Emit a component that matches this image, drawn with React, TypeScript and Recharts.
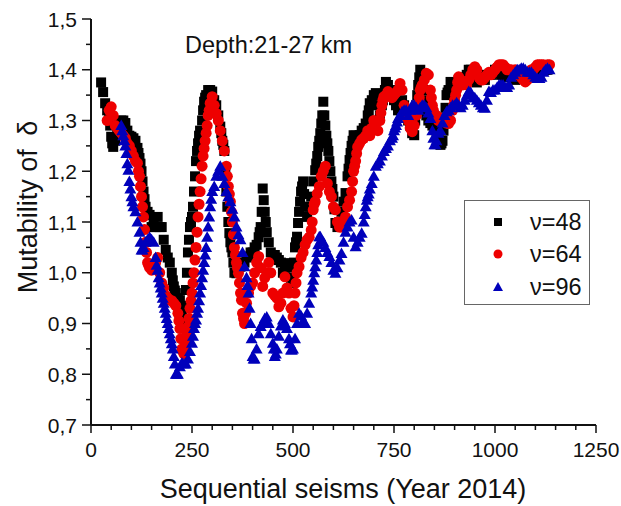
import React from 'react';
import { ScatterChart, Scatter, XAxis, YAxis } from 'recharts';

const RED = '#ee0000';
const BLUE = '#0000bb';
const INK = '#111';
const FONT = 'Arial, "Liberation Sans", sans-serif';

// sequential seism index: each series starts at its first point, one point every 5 seisms
const X_STEP = 5;
const START_48 = 25;
const START_64 = 40;
const START_96 = 75;

const DELTA_48 = [
  1.375, 1.356, 1.334, 1.32, 1.31, 1.268, 1.248, 1.26, 1.28, 1.295,
  1.3, 1.3, 1.295, 1.28, 1.27, 1.268, 1.265, 1.26, 1.246, 1.226,
  1.2, 1.16, 1.13, 1.12, 1.114, 1.09, 1.1, 1.09, 1.11, 1.09,
  1.09, 1.065, 1.045, 1.03, 1.02, 1.0, 0.973, 0.96, 0.95, 0.946,
  0.92, 0.905, 0.966, 1.04, 1.09, 1.11, 1.16, 1.22, 1.255, 1.28,
  1.3, 1.337, 1.35, 1.36, 1.36, 1.357, 1.34, 1.33, 1.31, 1.288,
  1.26, 1.24, 1.16, 1.1, 1.06, 1.04, 1.0, 0.999, 1.01, 1.012,
  1.02, 1.02, 1.03, 1.032, 1.04, 1.04, 1.05, 1.055, 1.07, 1.09,
  1.166, 1.12, 1.08, 1.06, 1.04, 1.03, 1.035, 1.03, 1.025, 1.02,
  1.0, 1.01, 1.019, 1.01, 0.99, 0.98, 1.05, 1.071, 1.12, 1.16,
  1.18, 1.13, 1.11, 1.13, 1.15, 1.18, 1.202, 1.23, 1.26, 1.294,
  1.337, 1.29, 1.255, 1.22, 1.18, 1.15, 1.098, 1.09, 1.1, 1.12,
  1.14, 1.157, 1.19, 1.222, 1.25, 1.271, 1.27, 1.265, 1.271, 1.28,
  1.285, 1.294, 1.31, 1.334, 1.34, 1.35, 1.354, 1.33, 1.31, 1.33,
  1.35, 1.376, 1.37, 1.36, 1.35, 1.34, 1.33, 1.32, 1.33, 1.34,
  1.33, 1.31, 1.3, 1.29, 1.275, 1.271, 1.33, 1.37, 1.4, 1.38,
  1.34, 1.31, 1.3, 1.295, 1.29, 1.285, 1.28, 1.275, 1.252, 1.26,
  1.3, 1.35, 1.36, 1.376, 1.37, 1.37, 1.375, 1.38, 1.37, 1.38,
  1.385, 1.39, 1.4, 1.4, 1.39, 1.38, 1.375, 1.38, 1.385, 1.385,
  1.38, 1.39, 1.39, 1.39, 1.395, 1.4, 1.4, 1.395, 1.39, 1.39,
  1.385, 1.39, 1.39, 1.39, 1.385, 1.38, 1.385, 1.385, 1.39, 1.385,
  1.39, 1.39, 1.385, 1.39, 1.395, 1.395, 1.4, 1.395, 1.4, 1.4,
  1.4, 1.4,
];

// extra readings on the steep stretches, where the markers sit closer together
const EXTRA_48 = [
  [47.5, 1.29], [52.5, 1.255], [117.5, 1.236], [122.5, 1.215], [127.5, 1.18],
  [132.5, 1.145], [202.5, 0.985], [207.5, 0.965], [227.5, 0.935], [232.5, 0.93],
  [237.5, 1.0], [242.5, 1.065], [247.5, 1.1], [252.5, 1.13], [257.5, 1.19],
  [262.5, 1.24], [267.5, 1.27], [277.5, 1.32], [282.5, 1.345], [322.5, 1.275],
  [327.5, 1.252], [332.5, 1.2], [337.5, 1.13], [342.5, 1.078], [347.5, 1.05],
  [352.5, 1.02], [417.5, 1.08], [422.5, 1.12], [427.5, 1.143], [432.5, 1.1],
  [502.5, 1.02], [507.5, 1.06], [512.5, 1.098], [517.5, 1.14], [522.5, 1.17],
  [527.5, 1.155], [557.5, 1.215], [562.5, 1.248], [567.5, 1.275], [572.5, 1.31],
  [577.5, 1.31], [582.5, 1.27], [587.5, 1.24], [592.5, 1.2], [597.5, 1.165],
  [602.5, 1.125], [637.5, 1.205], [642.5, 1.236], [647.5, 1.26], [687.5, 1.32],
  [722.5, 1.34], [727.5, 1.36], [802.5, 1.3], [807.5, 1.35], [812.5, 1.385],
  [822.5, 1.36], [827.5, 1.325], [867.5, 1.255], [872.5, 1.28], [877.5, 1.325],
  [882.5, 1.355],
];

const DELTA_64 = [
  1.3, 1.32, 1.327, 1.31, 1.29, 1.285, 1.28, 1.275, 1.27, 1.265,
  1.255, 1.25, 1.24, 1.23, 1.22, 1.216, 1.19, 1.15, 1.11, 1.06,
  1.02, 1.01, 1.005, 1.015, 1.02, 1.03, 1.0, 0.98, 0.97, 0.955,
  0.95, 0.946, 0.945, 0.94, 0.935, 0.92, 0.89, 0.85, 0.84, 0.87,
  0.894, 0.93, 0.96, 1.0, 1.05, 1.11, 1.16, 1.21, 1.245, 1.275,
  1.31, 1.334, 1.347, 1.33, 1.314, 1.3, 1.28, 1.26, 1.24, 1.21,
  1.17, 1.14, 1.1, 1.05, 1.02, 0.999, 0.96, 0.92, 0.9, 0.94,
  0.96, 0.973, 0.98, 1.0, 1.02, 1.032, 1.01, 0.973, 0.99, 1.0,
  1.02, 1.0, 0.96, 0.955, 0.95, 0.933, 0.94, 0.96, 0.992, 0.97,
  0.96, 0.93, 0.913, 0.96, 1.0, 1.012, 1.03, 1.04, 1.055, 1.065,
  1.07, 1.084, 1.124, 1.14, 1.156, 1.17, 1.19, 1.2, 1.21, 1.176,
  1.16, 1.15, 1.13, 1.124, 1.1, 1.09, 1.09, 1.1, 1.11, 1.13,
  1.143, 1.16, 1.2, 1.22, 1.248, 1.255, 1.262, 1.265, 1.27, 1.28,
  1.27, 1.285, 1.3, 1.294, 1.28, 1.3, 1.33, 1.347, 1.35, 1.357,
  1.35, 1.345, 1.35, 1.355, 1.36, 1.373, 1.36, 1.33, 1.31, 1.3,
  1.285, 1.278, 1.29, 1.31, 1.33, 1.36, 1.37, 1.38, 1.393, 1.39,
  1.36, 1.33, 1.311, 1.31, 1.3, 1.305, 1.3, 1.3, 1.295, 1.294,
  1.3, 1.32, 1.34, 1.36, 1.386, 1.38, 1.37, 1.375, 1.37, 1.38,
  1.39, 1.4, 1.406, 1.4, 1.385, 1.38, 1.38, 1.385, 1.39, 1.395,
  1.39, 1.395, 1.4, 1.405, 1.41, 1.41, 1.41, 1.405, 1.4, 1.4,
  1.4, 1.395, 1.4, 1.39, 1.39, 1.385, 1.38, 1.376, 1.38, 1.39,
  1.4, 1.4, 1.405, 1.41, 1.41, 1.41, 1.41, 1.405, 1.41, 1.41,
];

const EXTRA_64 = [
  [117.5, 1.2], [122.5, 1.17], [127.5, 1.13], [132.5, 1.085], [137.5, 1.04],
  [142.5, 1.015], [217.5, 0.905], [222.5, 0.87], [227.5, 0.845], [232.5, 0.855],
  [237.5, 0.88], [242.5, 0.91], [247.5, 0.945], [252.5, 0.98], [257.5, 1.025],
  [262.5, 1.08], [267.5, 1.135], [272.5, 1.185], [277.5, 1.23], [282.5, 1.26],
  [287.5, 1.29], [292.5, 1.32], [337.5, 1.19], [342.5, 1.155], [347.5, 1.12],
  [352.5, 1.075], [357.5, 1.035], [362.5, 1.01], [367.5, 0.98], [372.5, 0.946],
  [377.5, 0.91], [382.5, 0.92], [502.5, 0.935], [507.5, 0.98], [547.5, 1.1],
  [552.5, 1.135], [647.5, 1.18], [652.5, 1.21], [657.5, 1.235], [717.5, 1.315],
  [722.5, 1.34], [807.5, 1.32], [812.5, 1.345], [817.5, 1.365], [842.5, 1.345],
  [847.5, 1.32], [897.5, 1.33], [902.5, 1.35], [907.5, 1.375],
];

const DELTA_96 = [
  1.29, 1.27, 1.25, 1.215, 1.18, 1.15, 1.13, 1.12, 1.1, 1.08,
  1.045, 1.05, 1.06, 1.065, 1.07, 1.065, 1.06, 1.03, 1.005, 0.98,
  0.96, 0.94, 0.92, 0.9, 0.88, 0.86, 0.835, 0.8, 0.8, 0.815,
  0.822, 0.82, 0.82, 0.83, 0.845, 0.861, 0.89, 0.907, 0.93, 0.96,
  0.99, 1.02, 1.05, 1.09, 1.13, 1.16, 1.17, 1.19, 1.2, 1.21,
  1.19, 1.176, 1.16, 1.15, 1.14, 1.125, 1.11, 1.09, 1.075, 1.065,
  1.04, 1.012, 0.99, 0.96, 0.9, 0.835, 0.83, 0.85, 0.88, 0.894,
  0.9, 0.91, 0.913, 0.9, 0.88, 0.861, 0.835, 0.85, 0.875, 0.895,
  0.907, 0.9, 0.89, 0.87, 0.848, 0.85, 0.87, 0.9, 0.92, 0.915,
  0.905, 0.9, 0.92, 0.94, 0.96, 0.985, 1.012, 1.04, 1.071, 1.065,
  1.06, 1.05, 1.04, 1.032, 1.02, 1.005, 0.999, 1.01, 1.025, 1.038,
  1.06, 1.08, 1.09, 1.1, 1.104, 1.07, 1.051, 1.06, 1.07, 1.078,
  1.1, 1.13, 1.15, 1.165, 1.176, 1.19, 1.21, 1.215, 1.22, 1.23,
  1.239, 1.245, 1.25, 1.26, 1.265, 1.28, 1.29, 1.304, 1.31, 1.317,
  1.32, 1.32, 1.31, 1.32, 1.33, 1.33, 1.325, 1.32, 1.325, 1.33,
  1.33, 1.325, 1.315, 1.304, 1.28, 1.252, 1.26, 1.275, 1.28, 1.295,
  1.31, 1.317, 1.32, 1.325, 1.33, 1.33, 1.335, 1.33, 1.325, 1.33,
  1.34, 1.35, 1.357, 1.355, 1.345, 1.345, 1.34, 1.335, 1.33, 1.325,
  1.324, 1.34, 1.357, 1.355, 1.36, 1.36, 1.365, 1.37, 1.37, 1.37,
  1.365, 1.365, 1.37, 1.385, 1.39, 1.395, 1.4, 1.4, 1.403, 1.403,
  1.4, 1.395, 1.395, 1.395, 1.39, 1.385, 1.383, 1.383, 1.385, 1.395,
  1.4, 1.403, 1.4,
];

const EXTRA_96 = [
  [77.5, 1.28], [82.5, 1.26], [87.5, 1.235], [92.5, 1.202], [97.5, 1.165],
  [102.5, 1.14], [122.5, 1.06], [127.5, 1.045], [162.5, 1.015], [167.5, 0.99],
  [172.5, 0.97], [177.5, 0.95], [182.5, 0.93], [187.5, 0.91], [192.5, 0.89],
  [197.5, 0.87], [202.5, 0.85], [207.5, 0.82], [212.5, 0.8], [252.5, 0.875],
  [257.5, 0.9], [262.5, 0.92], [267.5, 0.945], [272.5, 0.975], [277.5, 1.005],
  [282.5, 1.035], [287.5, 1.07], [292.5, 1.11], [297.5, 1.145], [387.5, 0.975],
  [392.5, 0.93], [397.5, 0.87], [402.5, 0.83], [452.5, 0.85], [457.5, 0.84],
  [492.5, 0.86], [497.5, 0.848], [547.5, 0.972], [552.5, 1.0], [557.5, 1.025],
  [562.5, 1.055], [567.5, 1.071], [677.5, 1.115], [682.5, 1.143], [687.5, 1.155],
  [747.5, 1.27], [752.5, 1.285], [757.5, 1.297], [847.5, 1.265], [852.5, 1.252],
];

const X_TICKS = [
  0, 50, 100, 150, 200, 250, 300, 350, 400, 450, 500, 550, 600, 650,
  700, 750, 800, 850, 900, 950, 1000, 1050, 1100, 1150, 1200, 1250,
];
const X_LABELS: Record<number, string> = {
  0: '0', 250: '250', 500: '500', 750: '750', 1000: '1000', 1250: '1250',
};

const Y_TICKS = [
  0.7, 0.75, 0.8, 0.85, 0.9, 0.95, 1.0, 1.05, 1.1, 1.15, 1.2, 1.25,
  1.3, 1.35, 1.4, 1.45, 1.5,
];
const Y_LABELS: Record<string, string> = {
  '0.7': '0,7', '0.8': '0,8', '0.9': '0,9', '1': '1,0', '1.1': '1,1',
  '1.2': '1,2', '1.3': '1,3', '1.4': '1,4', '1.5': '1,5',
};

const toPoints = (start: number, values: number[], extra: number[][]) => [
  ...values.map((y, i) => ({ x: start + i * X_STEP, y })),
  ...extra.map(([x, y]) => ({ x, y })),
];

const data48 = toPoints(START_48, DELTA_48, EXTRA_48);
const data64 = toPoints(START_64, DELTA_64, EXTRA_64);
const data96 = toPoints(START_96, DELTA_96, EXTRA_96);

const Square = (p: any) => (
  <rect x={p.cx - 5} y={p.cy - 5} width={10} height={10} fill="#000" />
);
const Dot = (p: any) => <circle cx={p.cx} cy={p.cy} r={5.5} fill={RED} />;
const Tri = (p: any) => (
  <path
    d={`M${p.cx},${p.cy - 6}L${p.cx + 6},${p.cy + 4.5}L${p.cx - 6},${p.cy + 4.5}Z`}
    fill={BLUE}
  />
);

const XTick = (p: any) => {
  const label = X_LABELS[p.payload.value];
  return (
    <g>
      <line x1={p.x} x2={p.x} y1={p.y} y2={p.y + (label ? 8 : 5)} stroke={INK} strokeWidth={1.5} />
      {label && (
        <text x={p.x} y={p.y + 32} textAnchor="middle" fontSize={21} fill={INK} fontFamily={FONT}>
          {label}
        </text>
      )}
    </g>
  );
};

const YTick = (p: any) => {
  const label = Y_LABELS[String(p.payload.value)];
  return (
    <g>
      <line x1={p.x - (label ? 9 : 5)} x2={p.x} y1={p.y} y2={p.y} stroke={INK} strokeWidth={1.5} />
      {label && (
        <text x={p.x - 14} y={p.y + 7.5} textAnchor="end" fontSize={21} fill={INK} fontFamily={FONT}>
          {label}
        </text>
      )}
    </g>
  );
};

const LEGEND = [
  { name: 'ν=48', shape: 'square' },
  { name: 'ν=64', shape: 'circle' },
  { name: 'ν=96', shape: 'triangle' },
];

export default function App() {
  return (
    <div style={{ position: 'absolute', left: 0, top: 0, width: 621, height: 506, background: '#fff' }}>
      <ScatterChart width={621} height={506} margin={{ top: 19, right: 25, bottom: 0, left: 0 }}>
        <XAxis
          type="number"
          dataKey="x"
          domain={[0, 1250]}
          ticks={X_TICKS}
          interval={0}
          height={81}
          tickSize={0}
          tickMargin={0}
          tickLine={false}
          tick={<XTick />}
          axisLine={{ stroke: INK, strokeWidth: 2 }}
        />
        <YAxis
          type="number"
          dataKey="y"
          domain={[0.7, 1.5]}
          ticks={Y_TICKS}
          interval={0}
          width={91}
          tickSize={0}
          tickMargin={0}
          tickLine={false}
          tick={<YTick />}
          axisLine={{ stroke: INK, strokeWidth: 2 }}
          allowDataOverflow
        />
        <Scatter data={data48} shape={Square} isAnimationActive={false} />
        <Scatter data={data64} shape={Dot} isAnimationActive={false} />
        <Scatter data={data96} shape={Tri} isAnimationActive={false} />
      </ScatterChart>

      <svg
        width={621}
        height={506}
        style={{ position: 'absolute', left: 0, top: 0, pointerEvents: 'none' }}
        fontFamily={FONT}
      >
        <text x={185} y={53} fontSize={23.5} fill={INK}>Depth:21-27 km</text>
        <text x={343} y={498} fontSize={27} fill={INK} textAnchor="middle">
          Sequential seisms (Year 2014)
        </text>
        <text
          x={0}
          y={0}
          fontSize={27}
          fill={INK}
          textAnchor="middle"
          transform="translate(37,207) rotate(-90)"
        >
          Mutability of <tspan dx={6}>δ</tspan>
        </text>

        <rect x={464.5} y={200.5} width={125} height={104} fill="#fff" stroke="#666" strokeWidth={1} />
        {LEGEND.map((item, i) => {
          const cy = [222, 254, 287][i];
          return (
            <g key={item.name}>
              {item.shape === 'square' && <rect x={494} y={cy - 4} width={8} height={8} fill="#000" />}
              {item.shape === 'circle' && <circle cx={498} cy={cy} r={4.5} fill={RED} />}
              {item.shape === 'triangle' && (
                <path d={`M498,${cy - 5}L503,${cy + 4}L493,${cy + 4}Z`} fill={BLUE} />
              )}
              <text x={530} y={cy + 8} fontSize={23.5} fill={INK}>{item.name}</text>
            </g>
          );
        })}
      </svg>
    </div>
  );
}
